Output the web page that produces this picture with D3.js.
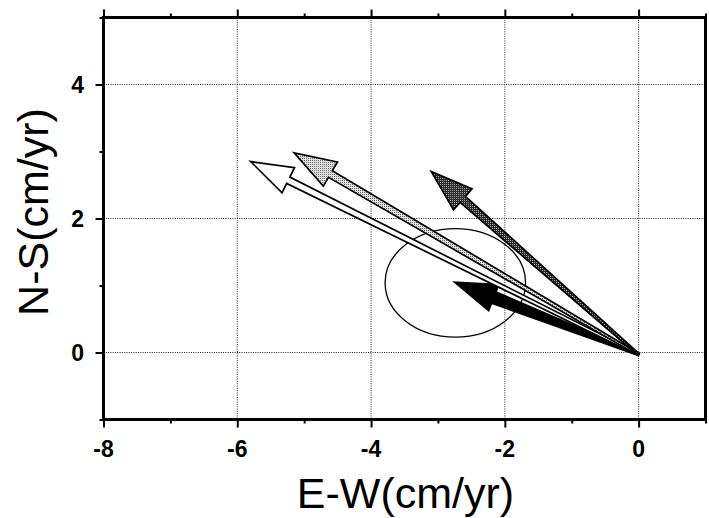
<!DOCTYPE html>
<html>
<head>
<meta charset="utf-8">
<script src="https://cdn.jsdelivr.net/npm/d3@7"></script>
<style>
  html, body { margin: 0; padding: 0; background: #fff; }
  svg { display: block; }
</style>
</head>
<body>
<svg id="chart" width="709" height="518"></svg>
<script>
// ---- data ----
const xMajorTicks = [-8, -6, -4, -2, 0];
const xMinorTicks = [-7, -5, -3, -1, 1];
const yMajorTicks = [0, 2, 4];
const yMinorTicks = [-1, 1, 3, 5];
const xTickLabels = ["-8", "-6", "-4", "-2", "0"];
const yTickLabels = ["0", "2", "4"];
const xGridValues = [-6, -4, -2, 0];
const yGridValues = [0, 2, 4];
const vectorIds = ["white", "lightgray", "darkgray", "black"];
const eastVelocity = [-5.8, -5.15, -3.1, -2.75];   // cm/yr
const northVelocity = [2.85, 2.98, 2.7, 1.05];     // cm/yr
const ellipseCenter = [-2.74, 1.04];
const ellipseRadii = [1.05, 0.81];
const xTitle = "E-W(cm/yr)";
const yTitle = "N-S(cm/yr)";

// ---- styles (kept separate from data) ----
const vectorFill = { white: "#ffffff", lightgray: "url(#stipLight)", darkgray: "url(#stipDark)", black: "#000000" };
const shaftHalf = { white: 3.6, lightgray: 3.8, darkgray: 4.0, black: 6.0 };
const drawOrder = ["black", "white", "lightgray", "darkgray"];

const svg = d3.select("#chart");
const x = d3.scaleLinear().domain([-8, 1]).range([103.5, 705.5]);
const y = d3.scaleLinear().domain([-1, 5]).range([419.5, 17.5]);
const font = "'Liberation Sans', Arial, Helvetica, sans-serif";

// patterns
const defs = svg.append("defs");
const pl = defs.append("pattern").attr("id", "stipLight").attr("patternUnits", "userSpaceOnUse").attr("width", 2).attr("height", 2);
pl.append("rect").attr("width", 2).attr("height", 2).attr("fill", "#e0e0e0");
pl.append("rect").attr("width", 1).attr("height", 1).attr("fill", "#6a6a6a");
const pd = defs.append("pattern").attr("id", "stipDark").attr("patternUnits", "userSpaceOnUse").attr("width", 2).attr("height", 2);
pd.append("rect").attr("width", 2).attr("height", 2).attr("fill", "#2a2a2a");
pd.append("rect").attr("width", 1).attr("height", 1).attr("fill", "#a8a8a8");

// gridlines
const grid = svg.append("g").attr("stroke", "#222").attr("stroke-width", 1).attr("stroke-dasharray", "1,1.3");
grid.selectAll("line.gx").data(xGridValues).join("line")
  .attr("x1", d => x(d)).attr("x2", d => x(d)).attr("y1", y(5)).attr("y2", y(-1));
grid.selectAll("line.gy").data(yGridValues).join("line")
  .attr("x1", x(-8)).attr("x2", x(1)).attr("y1", d => y(d)).attr("y2", d => y(d));

// error ellipse
svg.append("ellipse")
  .attr("cx", x(ellipseCenter[0])).attr("cy", y(ellipseCenter[1]))
  .attr("rx", x(ellipseCenter[0] + ellipseRadii[0]) - x(ellipseCenter[0]))
  .attr("ry", y(ellipseCenter[1]) - y(ellipseCenter[1] + ellipseRadii[1]))
  .attr("fill", "none").attr("stroke", "#000").attr("stroke-width", 1.3);

// arrows
function arrowPath(x0, y0, x1, y1, sh) {
  const dx = x1 - x0, dy = y1 - y0, L = Math.hypot(dx, dy);
  const ux = dx / L, uy = dy / L, nx = -uy, ny = ux;
  const headLen = 42, headHalf = 14, tailHalf = 1.0;
  const bx = x1 - ux * headLen, by = y1 - uy * headLen;
  const pts = [
    [x0 + nx * tailHalf, y0 + ny * tailHalf],
    [bx + nx * sh, by + ny * sh],
    [bx + nx * headHalf, by + ny * headHalf],
    [x1, y1],
    [bx - nx * headHalf, by - ny * headHalf],
    [bx - nx * sh, by - ny * sh],
    [x0 - nx * tailHalf, y0 - ny * tailHalf]
  ];
  return "M" + pts.map(p => p[0].toFixed(2) + "," + p[1].toFixed(2)).join("L") + "Z";
}
const arrows = svg.append("g");
drawOrder.forEach(id => {
  const i = vectorIds.indexOf(id);
  arrows.append("path")
    .attr("d", arrowPath(x(0), y(-0.03), x(eastVelocity[i]), y(northVelocity[i]), shaftHalf[id]))
    .attr("fill", vectorFill[id])
    .attr("stroke", "#000").attr("stroke-width", 1.7).attr("stroke-linejoin", "miter");
});

// axes (ticks via d3 axis, labels drawn explicitly)
function styleAxis(g) {
  g.select(".domain").remove();
  g.selectAll(".tick line").attr("stroke", "#000").attr("stroke-width", 2);
  g.selectAll(".tick text").remove();
}
function addAxis(axisGen, tr, vals, size) {
  svg.append("g").attr("transform", tr)
    .call(axisGen.tickValues(vals).tickFormat(() => "").tickSize(size))
    .call(styleAxis);
}
addAxis(d3.axisBottom(x), `translate(0,${y(-1)})`, xMajorTicks, 8);
addAxis(d3.axisBottom(x), `translate(0,${y(-1)})`, xMinorTicks, 4);
addAxis(d3.axisTop(x), `translate(0,${y(5)})`, xMajorTicks, 8);
addAxis(d3.axisTop(x), `translate(0,${y(5)})`, xMinorTicks, 4);
addAxis(d3.axisLeft(y), `translate(${x(-8)},0)`, yMajorTicks, 8);
addAxis(d3.axisLeft(y), `translate(${x(-8)},0)`, yMinorTicks, 4);

const labs = svg.append("g").attr("fill", "#000");
labs.selectAll("text.xl").data(xMajorTicks).join("text")
  .attr("x", d => x(d)).attr("y", 457)
  .attr("text-anchor", "middle")
  .attr("font-family", font).attr("font-size", 23).attr("font-weight", "bold")
  .text((d, i) => xTickLabels[i]);
labs.selectAll("text.yl").data(yMajorTicks).join("text")
  .attr("x", 84).attr("y", d => y(d) + 8)
  .attr("text-anchor", "end")
  .attr("font-family", font).attr("font-size", 23).attr("font-weight", "bold")
  .text((d, i) => yTickLabels[i]);

// frame
svg.append("rect")
  .attr("x", x(-8)).attr("y", y(5))
  .attr("width", x(1) - x(-8)).attr("height", y(-1) - y(5))
  .attr("fill", "none").attr("stroke", "#000").attr("stroke-width", 3);

// titles
svg.append("text").attr("x", (x(-8) + x(1)) / 2 + 1).attr("y", 508)
  .attr("text-anchor", "middle").attr("font-family", font).attr("font-size", 43)
  .attr("fill", "#000").text(xTitle);
svg.append("text").attr("transform", "translate(48,212) rotate(-90)")
  .attr("text-anchor", "middle").attr("font-family", font).attr("font-size", 43)
  .attr("fill", "#000").text(yTitle);
</script>
</body>
</html>
